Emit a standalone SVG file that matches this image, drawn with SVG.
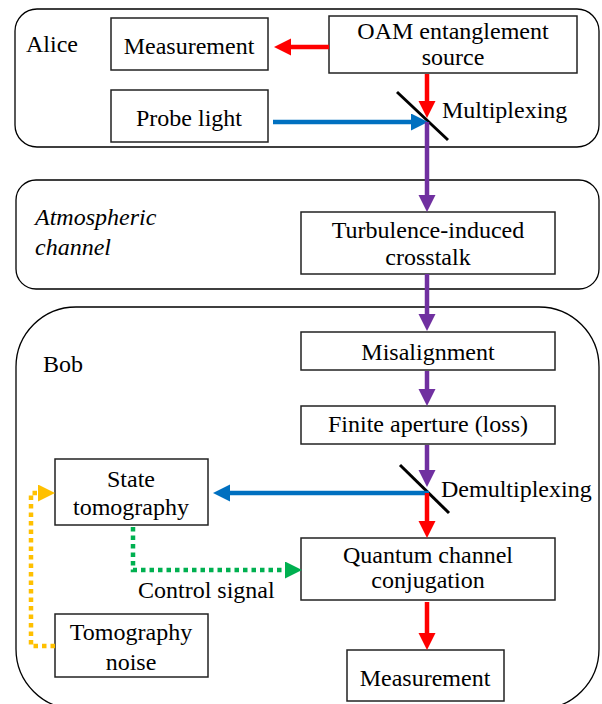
<svg xmlns="http://www.w3.org/2000/svg" width="602" height="704" viewBox="0 0 602 704">
<defs>
<style>
.panel{fill:#fff;stroke:#000;stroke-width:1.3}
.box{fill:#fff;stroke:#222;stroke-width:1.5}
text{font-family:"Liberation Serif","Times New Roman",serif;font-size:24px;fill:#000}
.c{text-anchor:middle}
.i{font-style:italic}
.ln{fill:none;stroke-width:4.5}
.dot{fill:none;stroke-width:4.5;stroke-dasharray:4.5 4}
.mir{stroke:#000;stroke-width:3}
</style>
<marker id="ar" markerUnits="userSpaceOnUse" markerWidth="18" markerHeight="18" refX="4" refY="8.5" orient="auto"><path d="M0,0 L17,8.5 L0,17 z" fill="#FF0000"/></marker>
<marker id="ab" markerUnits="userSpaceOnUse" markerWidth="18" markerHeight="18" refX="4" refY="8.5" orient="auto"><path d="M0,0 L17,8.5 L0,17 z" fill="#0070C0"/></marker>
<marker id="ap" markerUnits="userSpaceOnUse" markerWidth="18" markerHeight="18" refX="4" refY="8.5" orient="auto"><path d="M0,0 L17,8.5 L0,17 z" fill="#7030A0"/></marker>
<marker id="ag" markerUnits="userSpaceOnUse" markerWidth="18" markerHeight="18" refX="4" refY="8.5" orient="auto"><path d="M0,0 L17,8.5 L0,17 z" fill="#00B050"/></marker>
<marker id="ay" markerUnits="userSpaceOnUse" markerWidth="18" markerHeight="18" refX="4" refY="8.5" orient="auto"><path d="M0,0 L17,8.5 L0,17 z" fill="#FFC000"/></marker>
</defs>
<rect width="602" height="704" fill="#fff"/>
<g font-family="Liberation Serif, Times New Roman, serif" font-size="24">
<g id="alice">
<rect class="panel" x="15" y="9" width="584" height="138" rx="22"/>
<text x="26" y="52">Alice</text>
</g>
<g id="atmosphere">
<rect class="panel" x="16" y="180" width="583" height="109" rx="20"/>
<text class="i" x="35" y="225">Atmospheric</text>
<text class="i" x="35" y="255">channel</text>
</g>
<g id="bob">
<rect class="panel" x="16" y="307" width="583" height="402" rx="60"/>
<text x="43" y="372">Bob</text>
</g>
<g id="measurement-alice"><rect class="box" x="111" y="18" width="157" height="52"/><text class="c" x="189" y="54">Measurement</text></g>
<g id="oam-source"><rect class="box" x="329" y="16" width="248" height="57"/><text class="c" x="453" y="39">OAM entanglement</text><text class="c" x="453" y="65">source</text></g>
<g id="probe-light"><rect class="box" x="111" y="90" width="157" height="52"/><text class="c" x="189" y="126">Probe light</text></g>
<g id="multiplexing"><line class="mir" x1="397" y1="92" x2="448" y2="140"/><text x="442" y="118">Multiplexing</text></g>
<g id="turbulence"><rect class="box" x="301" y="212" width="254" height="62"/><text class="c" x="428" y="238">Turbulence-induced</text><text class="c" x="428" y="265">crosstalk</text></g>
<g id="misalignment"><rect class="box" x="301" y="332" width="254" height="38"/><text class="c" x="428" y="360">Misalignment</text></g>
<g id="finite-aperture"><rect class="box" x="301" y="406" width="254" height="38"/><text class="c" x="428" y="432">Finite aperture (loss)</text></g>
<g id="demultiplexing"><line class="mir" x1="400" y1="465" x2="449" y2="513"/><text x="441" y="497">Demultiplexing</text></g>
<g id="state-tomography"><rect class="box" x="55" y="459" width="153" height="66"/><text class="c" x="131" y="487">State</text><text class="c" x="131" y="515">tomography</text></g>
<g id="quantum-conjugation"><rect class="box" x="301" y="538" width="254" height="62"/><text class="c" x="428" y="563">Quantum channel</text><text class="c" x="428" y="588">conjugation</text></g>
<g id="tomography-noise"><rect class="box" x="55" y="614" width="153" height="63"/><text class="c" x="131" y="640">Tomography</text><text class="c" x="131" y="670">noise</text></g>
<g id="measurement-bob"><rect class="box" x="347" y="650" width="157" height="51"/><text class="c" x="425" y="686">Measurement</text></g>
<g id="connectors">
<line class="ln" stroke="#FF0000" x1="329" y1="47" x2="287" y2="47" marker-end="url(#ar)"/>
<line class="ln" stroke="#FF0000" x1="427" y1="74" x2="427" y2="105" marker-end="url(#ar)"/>
<line class="ln" stroke="#0070C0" x1="273" y1="122" x2="415" y2="122" marker-end="url(#ab)"/>
<line class="ln" stroke="#7030A0" x1="427" y1="122" x2="427" y2="199" marker-end="url(#ap)"/>
<line class="ln" stroke="#7030A0" x1="427" y1="274" x2="427" y2="318" marker-end="url(#ap)"/>
<line class="ln" stroke="#7030A0" x1="427" y1="371" x2="427" y2="393" marker-end="url(#ap)"/>
<line class="ln" stroke="#7030A0" x1="427" y1="445" x2="427" y2="474" marker-end="url(#ap)"/>
<line class="ln" stroke="#0070C0" x1="429" y1="493" x2="226" y2="493" marker-end="url(#ab)"/>
<line class="ln" stroke="#FF0000" x1="427" y1="493" x2="427" y2="525" marker-end="url(#ar)"/>
<line class="ln" stroke="#FF0000" x1="427" y1="602" x2="427" y2="637" marker-end="url(#ar)"/>
<path class="dot" stroke="#00B050" d="M133,527 V570 H289" marker-end="url(#ag)"/>
<text x="138" y="598">Control signal</text>
<path class="dot" stroke="#FFC000" d="M55,646 H31 V493 H42" marker-end="url(#ay)"/>
</g>
</g>
</svg>
